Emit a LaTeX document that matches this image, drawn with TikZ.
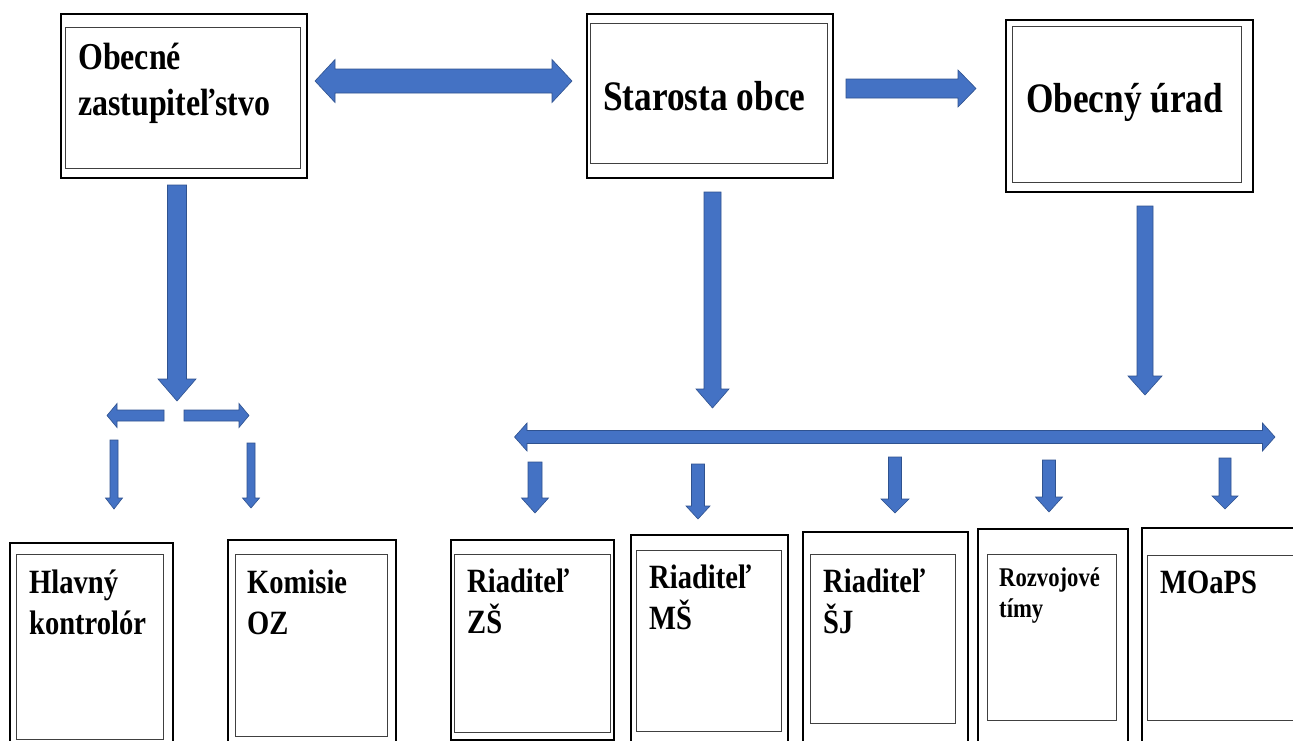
\documentclass[tikz,border=0pt]{standalone}
\usepackage{fontspec}
\newfontfamily\boxfont{Liberation Serif}[FakeStretch=0.84]
\usetikzlibrary{calc}
\definecolor{arrowblue}{HTML}{4472C4}
\definecolor{arrowrim}{HTML}{2F528F}

\begin{document}
\begin{tikzpicture}[x=1pt, y=1pt,
    outerbox/.style={draw=black, line width=1.5pt, anchor=north west, inner sep=0pt},
    innerbox/.style={draw=black!75, line width=1pt, anchor=north west, inner sep=0pt},
    boxtext/.style={anchor=base west, inner sep=0pt, align=left},
    bigtext/.style={boxtext, font=\boxfont\bfseries\fontsize{38}{46}\selectfont},
    hugetext/.style={boxtext, font=\boxfont\bfseries\fontsize{42}{46}\selectfont},
    smalltext/.style={boxtext, font=\boxfont\bfseries\fontsize{34}{41}\selectfont},
    tinytext/.style={boxtext, font=\boxfont\bfseries\fontsize{27}{31}\selectfont},
    bshaft/.store in=\bshaft, bhead/.store in=\bhead, btip/.store in=\btip,
    bshaft=6, bhead=13, btip=13,
    arrowlook/.style={fill=arrowblue, draw=arrowrim, line width=0.6pt, line join=miter},
    blockarrow/.style={arrowlook, to path={
        let \p1=(\tikztostart), \p2=(\tikztotarget),
            \n1={atan2(\y2-\y1,\x2-\x1)},
            \n2={veclen(\x2-\x1,\y2-\y1)-\btip} in
        ($(\p1)+(\n1+90:\bshaft)$) -- ($(\p1)+(\n1:\n2)+(\n1+90:\bshaft)$)
        -- ($(\p1)+(\n1:\n2)+(\n1+90:\bhead)$) -- (\p2)
        -- ($(\p1)+(\n1:\n2)+(\n1-90:\bhead)$) -- ($(\p1)+(\n1:\n2)+(\n1-90:\bshaft)$)
        -- ($(\p1)+(\n1-90:\bshaft)$) -- cycle}},
    dblockarrow/.style={arrowlook, to path={
        let \p1=(\tikztostart), \p2=(\tikztotarget),
            \n1={atan2(\y2-\y1,\x2-\x1)},
            \n2={veclen(\x2-\x1,\y2-\y1)-\btip} in
        (\p1) -- ($(\p1)+(\n1:\btip)+(\n1+90:\bhead)$) -- ($(\p1)+(\n1:\btip)+(\n1+90:\bshaft)$)
        -- ($(\p1)+(\n1:\n2)+(\n1+90:\bshaft)$) -- ($(\p1)+(\n1:\n2)+(\n1+90:\bhead)$) -- (\p2)
        -- ($(\p1)+(\n1:\n2)+(\n1-90:\bhead)$) -- ($(\p1)+(\n1:\n2)+(\n1-90:\bshaft)$)
        -- ($(\p1)+(\n1:\btip)+(\n1-90:\bshaft)$) -- ($(\p1)+(\n1:\btip)+(\n1-90:\bhead)$) -- cycle}}]
    \useasboundingbox[fill=white] (0,0) rectangle (1293,-740);

    % top row of boxes
    \node[outerbox, minimum width=246pt, minimum height=164pt] (zastup) at (60,-13) {};
    \node[innerbox, minimum width=235pt, minimum height=141pt] (zastup-in) at (65,-27) {};
    \node[bigtext] (zastup-txt) at (78,-115) {Obecné\\zastupiteľstvo};

    \node[outerbox, minimum width=246pt, minimum height=164pt] (starosta) at (586,-13) {};
    \node[innerbox, minimum width=237pt, minimum height=140pt] (starosta-in) at (590,-23) {};
    \node[hugetext] (starosta-txt) at (603,-110) {Starosta obce};

    \node[outerbox, minimum width=247pt, minimum height=172pt] (urad) at (1005,-19) {};
    \node[innerbox, minimum width=229pt, minimum height=156pt] (urad-in) at (1012,-26) {};
    \node[hugetext] (urad-txt) at (1026,-112) {Obecný úrad};

    % bottom row of boxes
    \node[outerbox, minimum width=163pt, minimum height=220pt] (kontrolor) at (9,-542) {};
    \node[innerbox, minimum width=147pt, minimum height=185pt] (kontrolor-in) at (16,-554) {};
    \node[smalltext] (kontrolor-txt) at (29,-634) {Hlavný\\kontrolór};

    \node[outerbox, minimum width=168pt, minimum height=220pt] (komisie) at (227,-539) {};
    \node[innerbox, minimum width=152pt, minimum height=182pt] (komisie-in) at (235,-554) {};
    \node[smalltext] (komisie-txt) at (247,-634) {Komisie\\OZ};

    \node[outerbox, minimum width=163pt, minimum height=200pt] (zs) at (450,-539) {};
    \node[innerbox, minimum width=156pt, minimum height=178pt] (zs-in) at (454,-554) {};
    \node[smalltext] (zs-txt) at (467,-633) {Riaditeľ\\ZŠ};

    \node[outerbox, minimum width=157pt, minimum height=230pt] (ms) at (630,-534) {};
    \node[innerbox, minimum width=145pt, minimum height=181pt] (ms-in) at (636,-550) {};
    \node[smalltext] (ms-txt) at (649,-629) {Riaditeľ\\MŠ};

    \node[outerbox, minimum width=165pt, minimum height=230pt] (sj) at (802,-531) {};
    \node[innerbox, minimum width=145pt, minimum height=169pt] (sj-in) at (810,-554) {};
    \node[smalltext] (sj-txt) at (823,-633) {Riaditeľ\\ŠJ};

    \node[outerbox, minimum width=150pt, minimum height=230pt] (timy) at (977,-528) {};
    \node[innerbox, minimum width=129pt, minimum height=166pt] (timy-in) at (987,-554) {};
    \node[tinytext] (timy-txt) at (999,-617) {Rozvojové\\tímy};

    \node[outerbox, minimum width=160pt, minimum height=230pt] (moaps) at (1141,-527) {};
    \node[innerbox, minimum width=150pt, minimum height=165pt] (moaps-in) at (1147,-555) {};
    \node[smalltext] (moaps-txt) at (1160,-593) {MOaPS};

    % arrow end points
    \coordinate (link-l) at (315,-81);
    \coordinate (link-r) at (572,-81);
    \coordinate (urad-a) at (846,-88.5);
    \coordinate (urad-b) at (976,-88.5);
    \coordinate (zastup-a) at (177,-185);
    \coordinate (zastup-b) at (177,-401);
    \coordinate (split-l) at (164,-415.5);
    \coordinate (split-le) at (107,-415.5);
    \coordinate (split-r) at (184,-415.5);
    \coordinate (split-re) at (249,-415.5);
    \coordinate (kontrolor-a) at (114,-440);
    \coordinate (kontrolor-b) at (114,-509);
    \coordinate (komisie-a) at (251,-443);
    \coordinate (komisie-b) at (251,-508);
    \coordinate (starosta-a) at (712.5,-192);
    \coordinate (starosta-b) at (712.5,-408);
    \coordinate (urad-c) at (1145,-206);
    \coordinate (urad-d) at (1145,-395);
    \coordinate (bar-l) at (514.5,-437);
    \coordinate (bar-r) at (1275,-437);

    % arrows of the top row
    \draw[dblockarrow, bshaft=12, bhead=21.5, btip=20] (link-l) to (link-r);
    \draw[blockarrow, bshaft=9.5, bhead=18.5, btip=18] (urad-a) to (urad-b);
    \draw[blockarrow, bshaft=9.5, bhead=19, btip=22] (zastup-a) to (zastup-b);
    \draw[blockarrow, bshaft=8.5, bhead=16.5, btip=19] (starosta-a) to (starosta-b);
    \draw[blockarrow, bshaft=8, bhead=17, btip=19] (urad-c) to (urad-d);

    % left branch
    \draw[blockarrow, bshaft=5.5, bhead=12, btip=10] (split-l) to (split-le);
    \draw[blockarrow, bshaft=5.5, bhead=12, btip=10] (split-r) to (split-re);
    \draw[blockarrow, bshaft=4, bhead=8.5, btip=11] (kontrolor-a) to (kontrolor-b);
    \draw[blockarrow, bshaft=4, bhead=8.5, btip=10] (komisie-a) to (komisie-b);

    % right branch
    \draw[dblockarrow, bshaft=6.5, bhead=14, btip=12.5] (bar-l) to (bar-r);
    \foreach \nm/\xx/\ya/\yb/\w/\h/\t in {zs/535/462/513/7/13.5/15, ms/698/464/519/6.5/12/13,
        sj/895/457/513/6.5/14/14, timy/1049/460/512/6.5/13.5/15, moaps/1225/458/509/6/13/13}{
        \coordinate (\nm-a) at (\xx,-\ya);
        \coordinate (\nm-b) at (\xx,-\yb);
        \draw[blockarrow, bshaft=\w, bhead=\h, btip=\t] (\nm-a) to (\nm-b);
    }
\end{tikzpicture}
\end{document}
